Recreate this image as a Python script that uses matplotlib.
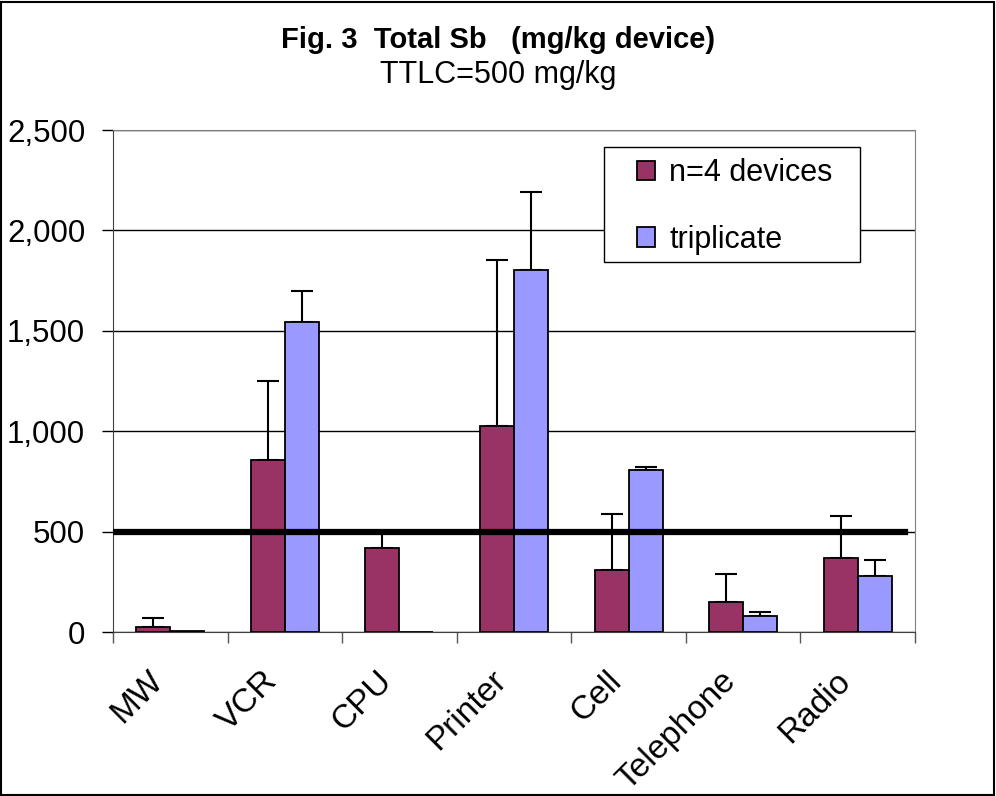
import matplotlib
matplotlib.use('Agg')
import matplotlib.pyplot as plt
import matplotlib.transforms as mtransforms
import numpy as np
from matplotlib.patches import Rectangle
from matplotlib.ticker import FuncFormatter

categories = ['MW', 'VCR', 'CPU', 'Printer', 'Cell', 'Telephone', 'Radio']
n4_vals = [27, 857, 418, 1026, 309, 150, 369]
n4_err = [43, 393, 85, 827, 279, 139, 208]
trip_vals = [3, 1544, 0, 1803, 807, 80, 279]
trip_err = [0, 156, 0, 388, 15, 20, 80]
ttlc = 500

plt.rcParams['font.family'] = ['Liberation Sans', 'DejaVu Sans']

W, H = 996, 796
fig = plt.figure(figsize=(W/100, H/100), dpi=100)
ax = fig.add_axes([113/W, 1-632/H, 802/W, 502/H])

x = np.arange(len(categories))
w = 0.297
purple = '#993366'
lav = '#9999FF'

ax.bar(x - w/2, n4_vals, w, color=purple, edgecolor='black', linewidth=1.3, label='n=4 devices', zorder=3)
ax.bar(x + w/2, trip_vals, w, color=lav, edgecolor='black', linewidth=1.3, label='triplicate', zorder=3)

# upper error bars only
ax.errorbar(x - w/2, n4_vals, yerr=[np.zeros(len(x)), n4_err], fmt='none',
            ecolor='black', elinewidth=1.5, capsize=8, capthick=1.5, zorder=2)
mask = np.array(trip_err) > 0
ax.errorbar((x + w/2)[mask], np.array(trip_vals)[mask],
            yerr=[np.zeros(mask.sum()), np.array(trip_err)[mask]], fmt='none',
            ecolor='black', elinewidth=1.5, capsize=8, capthick=1.5, zorder=2)

ax.axhline(ttlc, xmin=0, xmax=0.988, color='black', linewidth=4.5, zorder=5)

ax.set_xlim(-0.5, len(categories) - 0.5)
ax.set_ylim(0, 2500)
ax.set_yticks(np.arange(0, 2501, 500))
ax.yaxis.set_major_formatter(FuncFormatter(lambda v, p: f'{int(v):,}'))
ax.yaxis.grid(True, color='black', linewidth=1.0)
ax.set_axisbelow(True)

# category labels drawn as rotated text, ticks at category boundaries
ax.set_xticks(np.arange(-0.5, len(categories)))
ax.set_xticklabels([])
ax.tick_params(axis='x', length=8, width=1, color='#555555')
off = mtransforms.ScaledTranslation(-12/100, -44/100, fig.dpi_scale_trans)
for xi, lab in zip(x, categories):
    ax.text(xi, 0, lab, transform=ax.get_xaxis_transform() + off, rotation=45,
            ha='right', va='center', rotation_mode='anchor', fontsize=24, clip_on=False)

ax.tick_params(axis='y', labelsize=22.5, length=8, width=1, pad=12)

for s in ['top', 'right']:
    ax.spines[s].set_color('#808080')
for s in ['left', 'bottom']:
    ax.spines[s].set_color('#404040')

# legend entries without frame; box drawn separately
leg = ax.legend(loc='upper left', bbox_to_anchor=(637/W, 1-158/H),
                bbox_transform=fig.transFigure,
                fontsize=22, frameon=False,
                handlelength=0.6, handleheight=0.6, handletextpad=0.45,
                labelspacing=1.2, borderpad=0, borderaxespad=0)
leg.set_zorder(7)
box = Rectangle((604/W, 1-262/H), 256/W, 115/H, transform=fig.transFigure,
                facecolor='white', edgecolor='black', linewidth=1.0, zorder=6, clip_on=False)
ax.add_patch(box)

fig.text(0.5, 1-40/H, 'Fig. 3  Total Sb   (mg/kg device)', ha='center', va='center',
         fontsize=21, fontweight='bold')
fig.text(0.5, 1-75/H, 'TTLC=500 mg/kg', ha='center', va='center', fontsize=22)

fig.patches.append(Rectangle((0.001, 0.001), 0.997, 0.997, transform=fig.transFigure,
                             fill=False, edgecolor='black', linewidth=1.5))

fig.savefig('out.png', dpi=100)
